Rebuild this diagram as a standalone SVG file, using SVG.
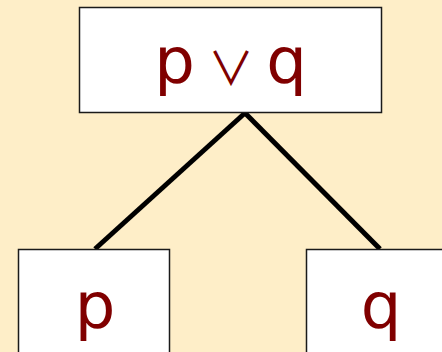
<svg xmlns="http://www.w3.org/2000/svg" width="442" height="352" viewBox="0 0 442 352">
<style>
.box{fill:#ffffff;stroke:#1a1a1a;stroke-width:1.5}
.lbl{font-family:"DejaVu Sans","Liberation Sans",sans-serif;font-size:64px;fill:#800000;text-anchor:middle}
.op{font-family:"Noto Sans CJK SC","DejaVu Sans",sans-serif;font-size:46px}
.edge{stroke:#000000;stroke-width:5;fill:none}
</style>
<rect width="442" height="352" fill="#feeec8"/>
<g id="connectors">
<line class="edge" x1="245" y1="113" x2="95" y2="249"/>
<line class="edge" x1="245" y1="113" x2="380" y2="249"/>
</g>
<g id="node-or">
<rect class="box" x="79.5" y="7.5" width="302" height="105"/>
<text class="lbl" y="83"><tspan x="174.5">p</tspan><tspan class="op" x="231" y="85">∨</tspan><tspan x="286.5" y="83">q</tspan></text>
</g>
<g id="node-p">
<rect class="box" x="18.5" y="249.5" width="151" height="120"/>
<text class="lbl" x="95" y="328">p</text>
</g>
<g id="node-q">
<rect class="box" x="306.5" y="249.5" width="151" height="120"/>
<text class="lbl" x="381" y="328">q</text>
</g>
</svg>
